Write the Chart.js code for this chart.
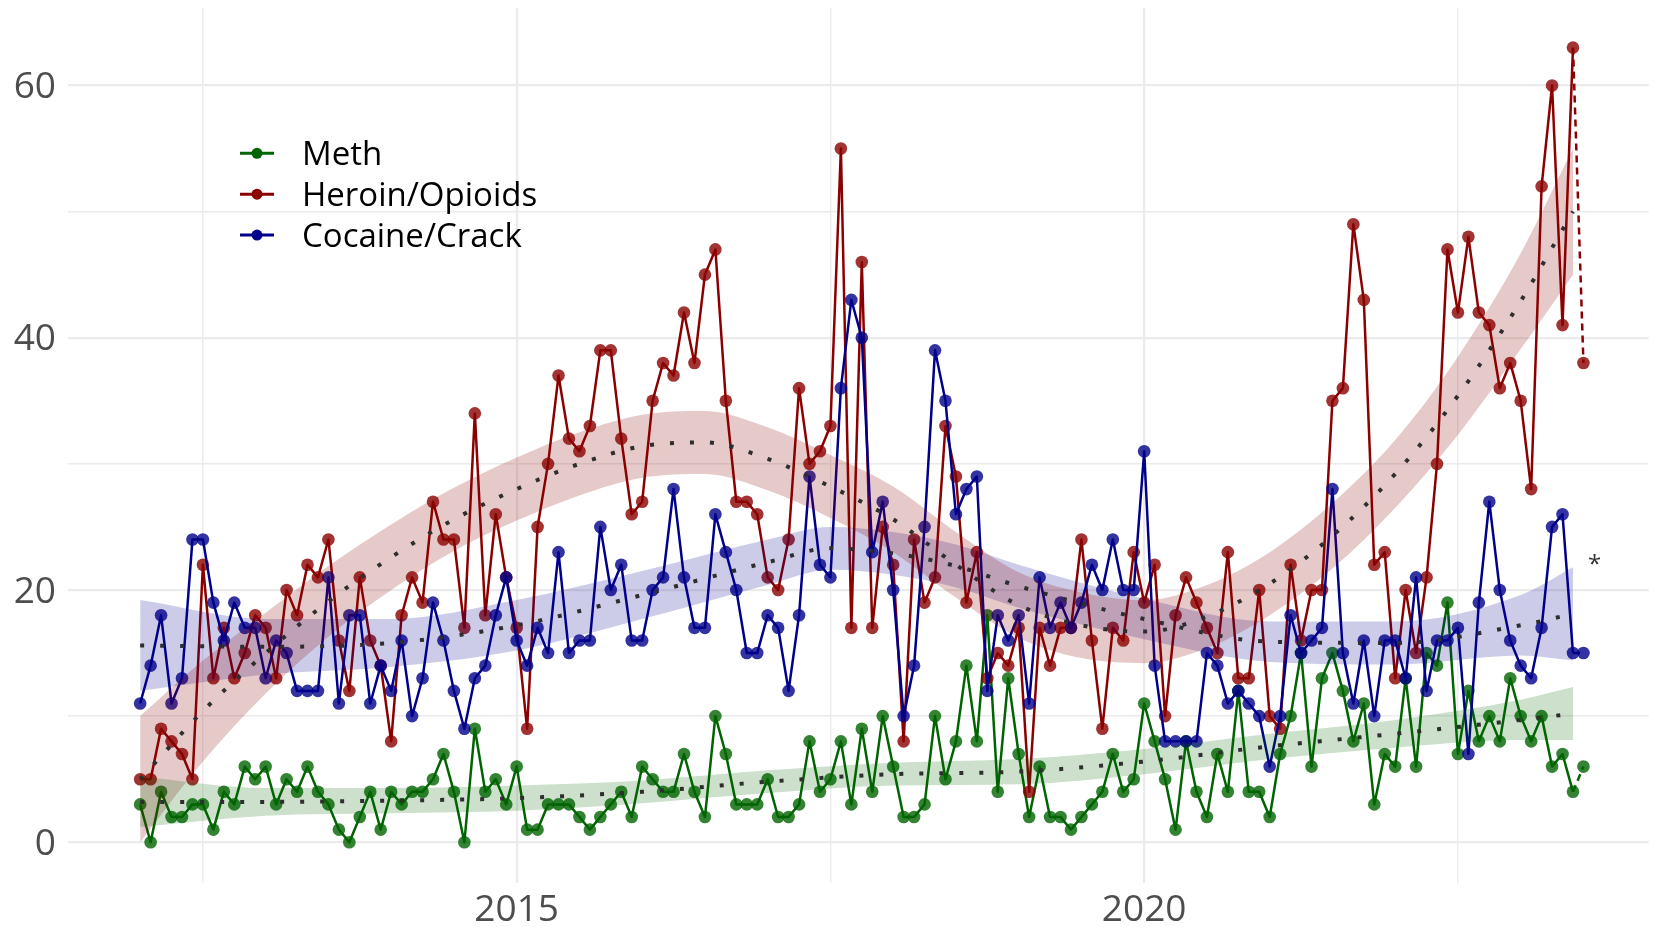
<!DOCTYPE html>
<html lang="en">
<head>
<meta charset="utf-8">
<title>Meth, Heroin/Opioids, Cocaine/Crack</title>
<script src="https://cdn.jsdelivr.net/npm/chart.js@4.4.1/dist/chart.umd.min.js"></script>
<style>
    html, body { margin: 0; padding: 0; background: #ffffff; }
    #caixa { position: relative; width: 1655px; height: 927px; }
</style>
</head>
<body>
<div id="caixa"><canvas id="grafico"></canvas></div>
<script>
// Monthly counts, first month is January 2012
const startYear = 2012;
const seriesNames = ['Meth', 'Heroin/Opioids', 'Cocaine/Crack'];

const meth = [
    3, 0, 4, 2, 2, 3, 3, 1, 4, 3, 6, 5, 6, 3, 5, 4, 6, 4,
    3, 1, 0, 2, 4, 1, 4, 3, 4, 4, 5, 7, 4, 0, 9, 4, 5,
    3, 6, 1, 1, 3, 3, 3, 2, 1, 2, 3, 4, 2, 6, 5, 4, 4,
    7, 4, 2, 10, 7, 3, 3, 3, 5, 2, 2, 3, 8, 4, 5, 8, 3,
    9, 4, 10, 6, 2, 2, 3, 10, 5, 8, 14, 8, 18, 4, 13, 7, 2,
    6, 2, 2, 1, 2, 3, 4, 7, 4, 5, 11, 8, 5, 1, 8, 4, 2,
    7, 4, 12, 4, 4, 2, 7, 10, 15, 6, 13, 15, 12, 8, 11, 3, 7, 6,
    13, 6, 15, 14, 19, 7, 12, 8, 10, 8, 13, 10, 8, 10, 6, 7, 4, 6
];
const heroin = [
    5, 5, 9, 8, 7, 5, 22, 13, 17, 13, 15, 18, 17, 13, 20, 18, 22, 21,
    24, 16, 12, 21, 16, 14, 8, 18, 21, 19, 27, 24, 24, 17, 34, 18, 26,
    21, 17, 9, 25, 30, 37, 32, 31, 33, 39, 39, 32, 26, 27, 35, 38, 37,
    42, 38, 45, 47, 35, 27, 27, 26, 21, 20, 24, 36, 30, 31, 33, 55, 17,
    46, 17, 25, 22, 8, 24, 19, 21, 33, 29, 19, 23, 13, 15, 14, 17, 4,
    17, 14, 17, 17, 24, 16, 9, 17, 16, 23, 19, 22, 10, 18, 21, 19, 17,
    15, 23, 13, 13, 20, 10, 9, 22, 16, 20, 20, 35, 36, 49, 43, 22, 23, 13,
    20, 15, 21, 30, 47, 42, 48, 42, 41, 36, 38, 35, 28, 52, 60, 41, 63, 38
];
const cocaine = [
    11, 14, 18, 11, 13, 24, 24, 19, 16, 19, 17, 17, 13, 16, 15, 12, 12, 12,
    21, 11, 18, 18, 11, 14, 12, 16, 10, 13, 19, 16, 12, 9, 13, 14, 18,
    21, 16, 14, 17, 15, 23, 15, 16, 16, 25, 20, 22, 16, 16, 20, 21, 28,
    21, 17, 17, 26, 23, 20, 15, 15, 18, 17, 12, 18, 29, 22, 21, 36, 43,
    40, 23, 27, 20, 10, 14, 25, 39, 35, 26, 28, 29, 12, 18, 16, 18, 11,
    21, 17, 19, 17, 19, 22, 20, 24, 20, 20, 31, 14, 8, 8, 8, 8, 15,
    14, 11, 12, 11, 10, 6, 10, 18, 15, 16, 17, 28, 15, 11, 16, 10, 16, 16,
    13, 21, 12, 16, 16, 17, 7, 19, 27, 20, 16, 14, 13, 17, 25, 26, 15, 15
];

// Smoothed trend (dotted) with its band, read at these months
const methTrendMonths = [0, 12, 24, 36, 48, 60, 72, 84, 96, 108, 120, 132, 137];
const methTrend = [3.2, 3.2, 3.3, 3.5, 4.0, 4.8, 5.4, 5.6, 6.4, 7.6, 8.6, 9.7, 10.2];
const methLow = [1.2, 2.1, 2.3, 2.5, 3.1, 3.9, 4.5, 4.6, 5.4, 6.6, 7.5, 8.1, 8.1];
const methHigh = [5.2, 4.3, 4.3, 4.5, 4.9, 5.7, 6.3, 6.6, 7.4, 8.6, 9.7, 11.3, 12.3];

const heroinTrendMonths = [0, 6, 12, 18, 24, 30, 36, 42, 48, 54, 60, 66, 72, 78, 84, 90, 96, 102, 108, 114, 120, 126, 132, 137];
const heroinTrend = [5.0, 10.4, 15.0, 19.1, 22.6, 25.6, 28.0, 30.0, 31.4, 31.7, 30.4, 28.2, 25.6, 22.0, 18.8, 17.2, 16.7, 17.9, 20.5, 24.3, 29.2, 35.4, 42.9, 50.0];
const heroinLow = [0.0, 6.4, 11.8, 16.3, 20.0, 23.1, 25.5, 27.5, 28.9, 29.2, 27.9, 25.7, 23.0, 19.4, 16.2, 14.6, 14.2, 15.4, 18.0, 21.7, 26.5, 32.3, 39.1, 45.0];
const heroinHigh = [10.0, 14.4, 18.2, 21.9, 25.2, 28.1, 30.5, 32.5, 33.9, 34.2, 32.9, 30.7, 28.2, 24.6, 21.4, 19.8, 19.2, 20.4, 23.0, 26.9, 31.9, 38.5, 46.7, 55.0];

const cocaineTrendMonths = [0, 12, 24, 36, 48, 60, 66, 72, 78, 84, 96, 108, 120, 132, 137];
const cocaineTrend = [15.6, 15.5, 15.8, 17.2, 19.6, 22.2, 23.3, 22.9, 21.9, 20.3, 17.7, 15.9, 15.8, 17.2, 18.1];
const cocaineLow = [12.0, 13.3, 13.9, 15.2, 17.7, 20.4, 21.6, 21.2, 20.2, 18.6, 16.1, 14.3, 14.1, 14.8, 14.4];
const cocaineHigh = [19.2, 17.7, 17.7, 19.2, 21.5, 24.0, 25.0, 24.6, 23.6, 22.0, 19.3, 17.5, 17.5, 19.6, 21.8];

// Axis ticks
const xGrid = [2012.5, 2015, 2017.5, 2020, 2022.5];
const xLabels = [2015, 2020];
const yGrid = [0, 10, 20, 30, 40, 50, 60];
const yLabels = [0, 20, 40, 60];

// Note beside the end of the cocaine band
const noteText = '*';
const noteX = 2023.59;
const noteY = 22.4;

const lineColors = ['#006400', '#8b0000', '#00008b'];
const pointColors = ['rgba(0, 100, 0, 0.8)', 'rgba(139, 0, 0, 0.8)', 'rgba(0, 0, 139, 0.8)'];
const bandColors = ['rgba(0, 100, 0, 0.2)', 'rgba(139, 0, 0, 0.21)', 'rgba(0, 0, 139, 0.2)'];

const monthToYear = (m) => startYear + m / 12;
const asPoints = (values) => values.map((v, i) => ({ x: monthToYear(i), y: v }));
const asTrend = (months, values) => values.map((v, k) => ({ x: monthToYear(months[k]), y: v }));

const series = [meth, heroin, cocaine];
const trends = [
    { months: methTrendMonths, mid: methTrend, low: methLow, high: methHigh },
    { months: heroinTrendMonths, mid: heroinTrend, low: heroinLow, high: heroinHigh },
    { months: cocaineTrendMonths, mid: cocaineTrend, low: cocaineLow, high: cocaineHigh }
];

const datasets = [];

// Monthly lines with points, last month dashed
series.forEach((values, s) => {
    const last = values.length - 1;
    datasets.push({
        label: seriesNames[s],
        data: asPoints(values),
        borderColor: lineColors[s],
        borderWidth: 2.5,
        borderJoinStyle: 'round',
        pointRadius: 6.3,
        pointHoverRadius: 6.3,
        pointBorderWidth: 0,
        pointBackgroundColor: pointColors[s],
        order: 10 - s,
        segment: {
            borderDash: (c) => (c.p1DataIndex === last ? [7, 5] : undefined)
        }
    });
});

// Bands
trends.forEach((t, s) => {
    datasets.push({
        data: asTrend(t.months, t.low),
        borderColor: 'transparent',
        borderWidth: 0,
        pointRadius: 0,
        fill: false,
        cubicInterpolationMode: 'monotone',
        order: 5
    });
    datasets.push({
        data: asTrend(t.months, t.high),
        borderColor: 'transparent',
        borderWidth: 0,
        pointRadius: 0,
        fill: '-1',
        backgroundColor: bandColors[s],
        cubicInterpolationMode: 'monotone',
        order: 5
    });
});

// Dotted trend lines
trends.forEach((t) => {
    datasets.push({
        data: asTrend(t.months, t.mid),
        borderColor: '#2e2e2e',
        borderWidth: 4,
        borderDash: [4, 16],
        pointRadius: 0,
        fill: false,
        cubicInterpolationMode: 'monotone',
        order: 1
    });
});

// Legend inside the plot, and the asterisk note
const legendaInterna = {
    id: 'legendaInterna',
    afterDraw(chart) {
        const ctx = chart.ctx;
        ctx.save();
        seriesNames.forEach((name, s) => {
            const y = 153.3 + s * 40.9;
            ctx.strokeStyle = lineColors[s];
            ctx.lineWidth = 3;
            ctx.beginPath();
            ctx.moveTo(240, y);
            ctx.lineTo(274, y);
            ctx.stroke();
            ctx.fillStyle = lineColors[s];
            ctx.beginPath();
            ctx.arc(257, y, 5.5, 0, Math.PI * 2);
            ctx.fill();
            ctx.fillStyle = '#000000';
            ctx.font = "33px 'Open Sans', sans-serif";
            ctx.textAlign = 'left';
            ctx.textBaseline = 'alphabetic';
            ctx.fillText(name, 302, y + 12);
        });
        const px = chart.scales.x.getPixelForValue(noteX);
        const py = chart.scales.y.getPixelForValue(noteY);
        ctx.fillStyle = '#333333';
        ctx.font = "24px 'Open Sans', sans-serif";
        ctx.textAlign = 'center';
        ctx.textBaseline = 'middle';
        ctx.fillText(noteText, px, py + 5);
        ctx.restore();
    }
};

const ctx = document.getElementById('grafico').getContext('2d');
new Chart(ctx, {
    type: 'line',
    data: { datasets: datasets },
    plugins: [legendaInterna],
    options: {
        responsive: true,
        maintainAspectRatio: false,
        animation: false,
        events: [],
        layout: { padding: { top: 8, left: 0, right: 0, bottom: 0 } },
        plugins: {
            legend: { display: false },
            tooltip: { enabled: false }
        },
        scales: {
            x: {
                type: 'linear',
                min: 2011.425,
                max: 2024.02,
                bounds: 'data',
                afterBuildTicks: (s) => { s.ticks = xGrid.map((v) => ({ value: v })); },
                afterFit: (s) => { s.height = 44; s.paddingLeft = 0; s.paddingRight = 0; },
                border: { display: false },
                grid: {
                    color: '#ebebeb',
                    lineWidth: (c) => (c.tick && xLabels.includes(c.tick.value) ? 2.2 : 1.4),
                    drawTicks: false
                },
                ticks: {
                    autoSkip: false,
                    maxRotation: 0,
                    padding: 5,
                    color: '#4d4d4d',
                    font: { family: "'Open Sans', sans-serif", size: 37 },
                    callback: (v) => (xLabels.includes(v) ? String(v) : '')
                }
            },
            y: {
                min: -3.23,
                max: 66.14,
                bounds: 'data',
                afterBuildTicks: (s) => { s.ticks = yGrid.map((v) => ({ value: v })); },
                afterFit: (s) => { s.width = 68; s.paddingTop = 0; s.paddingBottom = 0; },
                border: { display: false },
                grid: {
                    color: '#ebebeb',
                    lineWidth: (c) => (c.tick && yLabels.includes(c.tick.value) ? 2.2 : 1.4),
                    drawTicks: false
                },
                ticks: {
                    padding: 12,
                    labelOffset: 2,
                    color: '#4d4d4d',
                    font: { family: "'Open Sans', sans-serif", size: 37 },
                    callback: (v) => (yLabels.includes(v) ? String(v) : '')
                }
            }
        }
    }
});
</script>
</body>
</html>
